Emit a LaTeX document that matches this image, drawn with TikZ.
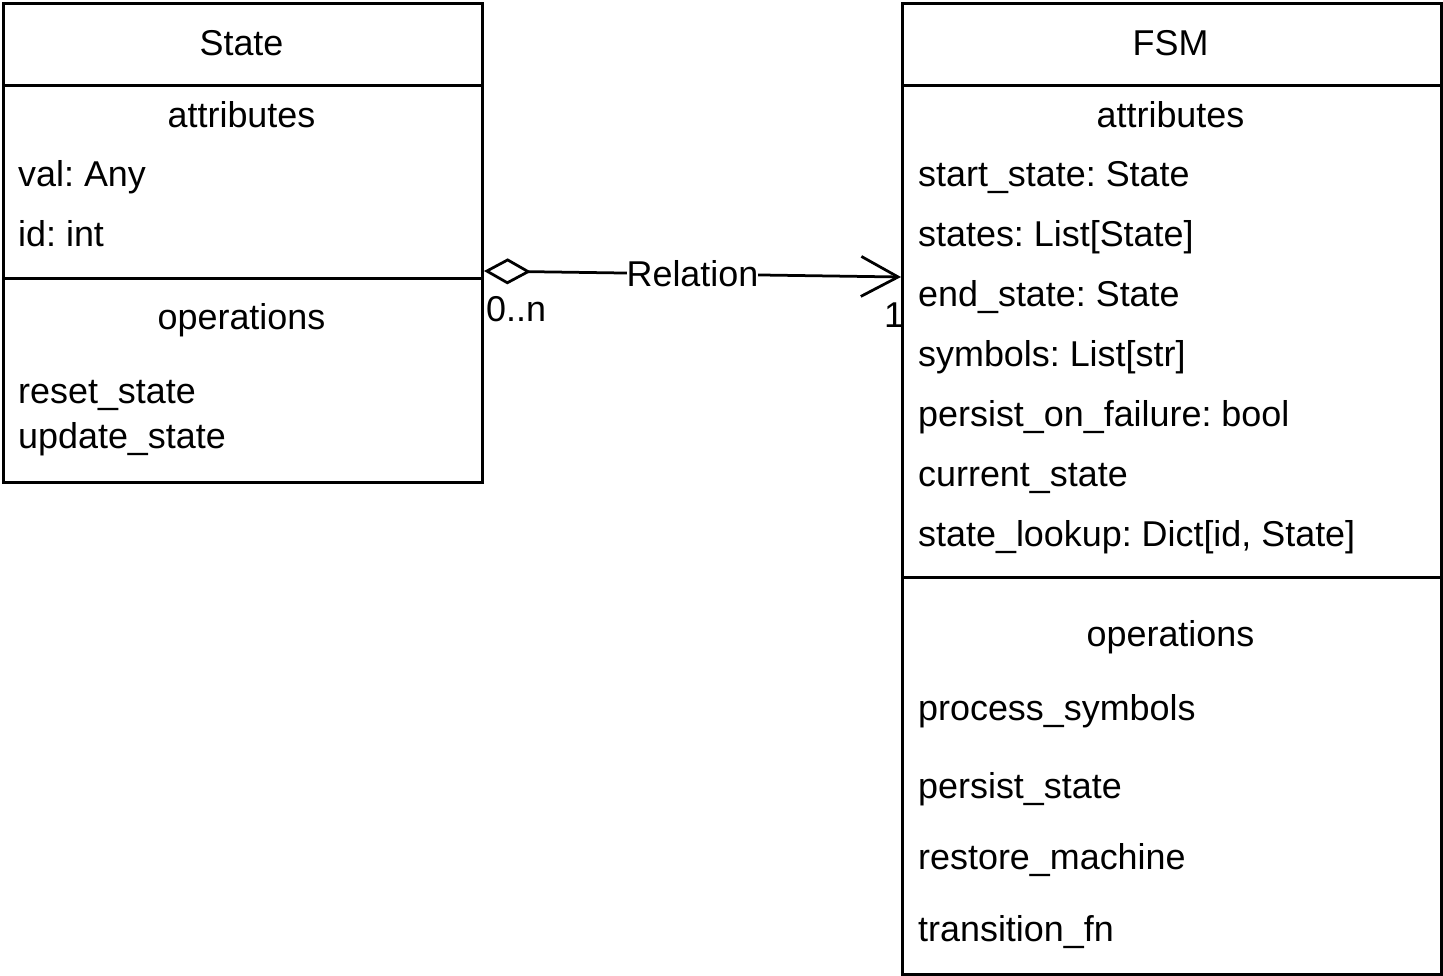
\documentclass[tikz,border=0pt]{standalone}
\usepackage{fontspec}
\setmainfont{Liberation Sans}
\usetikzlibrary{arrows.meta}
\frenchspacing
\begin{document}
\begin{tikzpicture}[x=1pt,y=-1pt,
  box/.style={draw=black, line width=3pt, inner sep=0pt, anchor=north west},
  sep/.style={draw=black, line width=3pt},
  txt/.style={inner sep=0pt, font=\fontsize{35.9}{42}\selectfont},
  lft/.style={txt, anchor=base west},
  ctr/.style={txt, anchor=base},
  conn/.style={draw=black, line width=2.75pt}]
\useasboundingbox (0,0) rectangle (1443,975);
% boxes
\node[box, minimum width=479pt, minimum height=479pt] (stateBox) at (2,2) {};
\node[box, minimum width=539pt, minimum height=971pt] (fsmBox) at (901,2) {};
% separators
\draw[sep] (stateBox.west |- 0,85) -- (stateBox.east |- 0,85);
\draw[sep] (stateBox.west |- 0,278) -- (stateBox.east |- 0,278);
\draw[sep] (fsmBox.west |- 0,85) -- (fsmBox.east |- 0,85);
\draw[sep] (fsmBox.west |- 0,577) -- (fsmBox.east |- 0,577);
% State texts
\node[ctr] (sTitle) at (241.5,55) {State};
\node[ctr] (sAttr) at (241.5,127) {attributes};
\node[lft] (sVal) at (18,186) {val: Any};
\node[lft] (sId) at (18,246) {id: int};
\node[ctr] (sOps) at (241.5,329) {operations};
\node[lft] (sReset) at (18,403) {reset\_state};
\node[lft] (sUpdate) at (18,448) {update\_state};
% FSM texts
\node[ctr] (fTitle) at (1170.5,55) {FSM};
\node[ctr] (fAttr) at (1170.5,127) {attributes};
\node[lft] (fStart) at (918,186) {start\_state: State};
\node[lft] (fStates) at (918,246) {states: List[State]};
\node[lft] (fEnd) at (918,306) {end\_state: State};
\node[lft] (fSym) at (918,366) {symbols: List[str]};
\node[lft] (fPersist) at (918,426) {persist\_on\_failure: bool};
\node[lft] (fCur) at (918,486) {current\_state};
\node[lft] (fLookup) at (918,546) {state\_lookup: Dict[id, State]};
\node[ctr] (fOps) at (1170.5,646) {operations};
\node[lft] (fProc) at (918,720) {process\_symbols};
\node[lft] (fPState) at (918,798) {persist\_state};
\node[lft] (fRestore) at (918,869) {restore\_machine};
\node[lft] (fTrans) at (918,941) {transition\_fn};
% connector
\coordinate (cStart) at (stateBox.east |- 0,271);
\coordinate (cEnd) at (fsmBox.west |- 0,277);
\draw[conn, {Diamond[open, length=47pt, width=26pt]}-{Straight Barb[length=37pt, width=40pt]}]
  (cStart) -- node[txt, fill=white, inner xsep=0pt, inner ysep=3pt] (rel) {Relation} (cEnd);
\node[lft] (mult1) at (486,321) {0..n};
\node[lft] (mult2) at (884,327) {1};
\end{tikzpicture}
\end{document}
